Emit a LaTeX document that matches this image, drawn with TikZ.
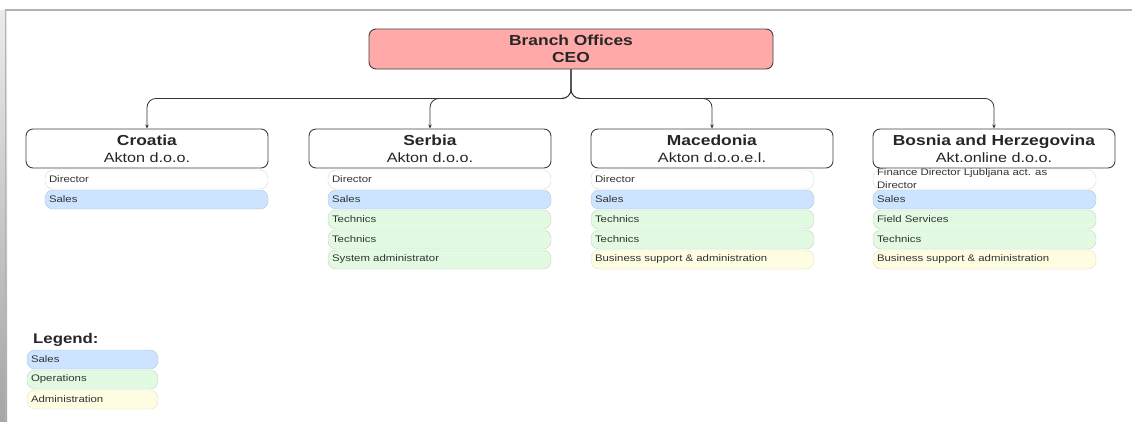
\documentclass[tikz,border=0pt]{standalone}
\usepackage{fontspec}
\setmainfont[FakeStretch=1.2]{Liberation Sans}
\usetikzlibrary{arrows.meta,positioning}

\definecolor{ceopink}{HTML}{FFA9A9}
\definecolor{salesblue}{HTML}{CCE4FF}
\definecolor{opsgreen}{HTML}{E2F9E2}
\definecolor{admyellow}{HTML}{FEFDE2}

\begin{document}
\begin{tikzpicture}[
  x=1pt, y=-1pt,
  office/.style={rectangle, draw=black!75, line width=0.9pt, rounded corners=7pt, fill=white, align=center, minimum width=242pt, minimum height=39pt, inner sep=1pt, font=\fontsize{13.5}{17}\selectfont, text=black!85},
  role/.style={rectangle, draw=black!15, rounded corners=8pt, fill=white, minimum width=223pt, minimum height=19pt, text width=215pt, inner xsep=4pt, inner ysep=2pt, align=left, text=black!80, font=\fontsize{9.5}{10.5}\selectfont},
  sales/.style={role, fill=salesblue, draw=salesblue!75!black!70},
  ops/.style={role, fill=opsgreen, draw=opsgreen!80!black!75},
  adm/.style={role, fill=admyellow, draw=admyellow!85!black!75},
  >={Stealth[length=4pt,width=3.5pt]}
]
\useasboundingbox (0,0) rectangle (1132,421);

% frame of the page
\shade[top color=black!8, bottom color=black!35] (0,10) rectangle (7,421);
\draw[black!30, line width=1.5pt] (5,10) -- (1132,10);
\draw[black!30, line width=1pt] (5,10) -- (5,421);

% head office
\node[office, fill=ceopink, minimum width=404pt, minimum height=40pt, font=\bfseries\fontsize{14.5}{16.5}\selectfont] (ceo) at (571,49) {Branch Offices\\CEO};

% role lists
\foreach \sty/\txt [count=\i from 0] in {role/Director, sales/Sales}
  \node[\sty] (hr\i) at (156.5,179.5+20*\i) {\txt};
\foreach \sty/\txt [count=\i from 0] in {role/Director, sales/Sales, ops/Technics, ops/Technics, ops/System administrator}
  \node[\sty] (rs\i) at (439.5,179.5+20*\i) {\txt};
\foreach \sty/\txt [count=\i from 0] in {role/Director, sales/Sales, ops/Technics, ops/Technics, adm/Business support \& administration}
  \node[\sty] (mk\i) at (702.5,179.5+20*\i) {\txt};
\node[role] (ba0) at (984.5,179.5) {};
\node[anchor=south west, align=left, inner xsep=4pt, inner ysep=0pt, text=black!80, font=\fontsize{9.5}{13.5}\selectfont] (ba0txt) at (ba0.south west) {Finance Director Ljubljana act. as\\Director};
\foreach \sty/\txt [count=\i from 1] in {sales/Sales, ops/Field Services, ops/Technics, adm/Business support \& administration}
  \node[\sty] (ba\i) at (984.5,179.5+20*\i) {\txt};

% branch offices
\node[office] (croatia) at (147,148.5) {\textbf{\fontsize{14.5}{17}\selectfont Croatia}\\Akton d.o.o.};
\node[office] (serbia) at (430,148.5) {\textbf{\fontsize{14.5}{17}\selectfont Serbia}\\Akton d.o.o.};
\node[office] (macedonia) at (712,148.5) {\textbf{\fontsize{14.5}{17}\selectfont Macedonia}\\Akton d.o.o.e.l.};
\node[office] (bosnia) at (994,148.5) {\textbf{\fontsize{14.5}{17}\selectfont Bosnia and Herzegovina}\\Akt.online d.o.o.};

\draw[->, black!80, line width=0.8pt, rounded corners=9pt] (ceo.south) -- ++(0,29) -| (croatia.north);
\draw[->, black!80, line width=0.8pt, rounded corners=9pt] (ceo.south) -- ++(0,29) -| (serbia.north);
\draw[->, black!80, line width=0.8pt, rounded corners=9pt] (ceo.south) -- ++(0,29) -| (macedonia.north);
\draw[->, black!80, line width=0.8pt, rounded corners=9pt] (ceo.south) -- ++(0,29) -| (bosnia.north);

% legend
\node[anchor=west, font=\bfseries\fontsize{14}{16}\selectfont, text=black!85, inner sep=0pt] (legend) at (33,340) {Legend:};
\node[sales, minimum width=131pt, text width=123pt] (lsales) at (92.5,359.5) {Sales};
\node[ops, minimum width=131pt, text width=123pt] (lops) at (92.5,379.5) {Operations};
\node[adm, minimum width=131pt, text width=123pt] (ladm) at (92.5,399.5) {Administration};
\end{tikzpicture}
\end{document}
